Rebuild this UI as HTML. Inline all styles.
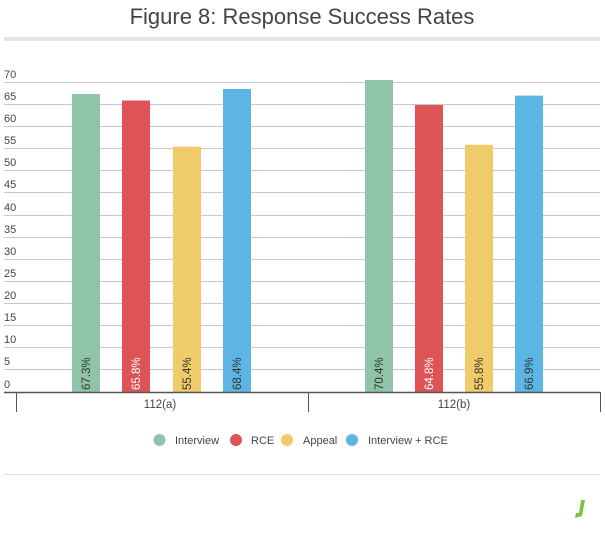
<!DOCTYPE html>
<html><head><style>body{margin:0;background:#fff;width:605px;height:529px;overflow:hidden}</style></head><body>
<svg width="605" height="529" xmlns="http://www.w3.org/2000/svg" font-family="Liberation Sans, sans-serif">
<text x="302" y="24" text-anchor="middle" font-size="22" fill="#444">Figure 8: Response Success Rates</text>
<rect x="4" y="37" width="596" height="4" fill="#e6e6e6"/>
<g stroke="#c8c8c8" stroke-width="1">
<line x1="4" x2="600" y1="82.5" y2="82.5"/><line x1="4" x2="600" y1="104.5" y2="104.5"/><line x1="4" x2="600" y1="126.5" y2="126.5"/><line x1="4" x2="600" y1="148.5" y2="148.5"/><line x1="4" x2="600" y1="170.5" y2="170.5"/><line x1="4" x2="600" y1="192.5" y2="192.5"/><line x1="4" x2="600" y1="215.5" y2="215.5"/><line x1="4" x2="600" y1="237.5" y2="237.5"/><line x1="4" x2="600" y1="259.5" y2="259.5"/><line x1="4" x2="600" y1="281.5" y2="281.5"/><line x1="4" x2="600" y1="303.5" y2="303.5"/><line x1="4" x2="600" y1="325.5" y2="325.5"/><line x1="4" x2="600" y1="347.5" y2="347.5"/><line x1="4" x2="600" y1="369.5" y2="369.5"/>
</g>
<g font-size="11" fill="#444">
<text x="4" y="78">70</text><text x="4" y="100">65</text><text x="4" y="122">60</text><text x="4" y="144">55</text><text x="4" y="166">50</text><text x="4" y="188">45</text><text x="4" y="211">40</text><text x="4" y="233">35</text><text x="4" y="255">30</text><text x="4" y="277">25</text><text x="4" y="299">20</text><text x="4" y="321">15</text><text x="4" y="343">10</text><text x="4" y="365">5</text><text x="4" y="388">0</text>
</g>
<rect x="72" y="94" width="28" height="298" fill="#8fc4a9"/>
<rect x="122" y="100.5" width="28" height="291.5" fill="#dd5356"/>
<rect x="173" y="146.6" width="28" height="245.4" fill="#efcb6a"/>
<rect x="223" y="89" width="28" height="303" fill="#5db5e5"/>
<rect x="365" y="80" width="28" height="312" fill="#8fc4a9"/>
<rect x="415" y="105" width="28" height="287" fill="#dd5356"/>
<rect x="465" y="144.8" width="28" height="247.2" fill="#efcb6a"/>
<rect x="515" y="95.6" width="28" height="296.4" fill="#5db5e5"/>
<g font-size="11.5">
<text transform="translate(90,390) rotate(-90)" fill="#333">67.3%</text>
<text transform="translate(140,390) rotate(-90)" fill="#fff">65.8%</text>
<text transform="translate(191,390) rotate(-90)" fill="#333">55.4%</text>
<text transform="translate(241,390) rotate(-90)" fill="#333">68.4%</text>
<text transform="translate(383,390) rotate(-90)" fill="#333">70.4%</text>
<text transform="translate(433,390) rotate(-90)" fill="#fff">64.8%</text>
<text transform="translate(483,390) rotate(-90)" fill="#333">55.8%</text>
<text transform="translate(533,390) rotate(-90)" fill="#333">66.9%</text>
</g>
<line x1="4" x2="600" y1="392.5" y2="392.5" stroke="#555" stroke-width="1.5"/>
<g stroke="#555"><line x1="16.5" x2="16.5" y1="392" y2="412"/><line x1="308.5" x2="308.5" y1="392" y2="412"/><line x1="600.5" x2="600.5" y1="392" y2="412"/></g>
<g font-size="11.5" fill="#444" text-anchor="middle"><text x="160" y="408">112(a)</text><text x="454" y="408">112(b)</text></g>
<g font-size="11" fill="#444">
<circle cx="159.5" cy="440" r="6" fill="#8fc4a9"/><text x="175" y="444">Interview</text>
<circle cx="236" cy="440" r="6" fill="#dd5356"/><text x="251" y="444">RCE</text>
<circle cx="287" cy="440" r="6" fill="#efcb6a"/><text x="303" y="444">Appeal</text>
<circle cx="352" cy="440" r="6" fill="#5db5e5"/><text x="368" y="444">Interview + RCE</text>
</g>
<line x1="4" x2="600" y1="474.5" y2="474.5" stroke="#ddd"/>
<path d="M581 500 L585 500 L582 516 L575 518 L576 513 L579 513 Z" fill="#7cc243"/>
</svg>
</body></html>
